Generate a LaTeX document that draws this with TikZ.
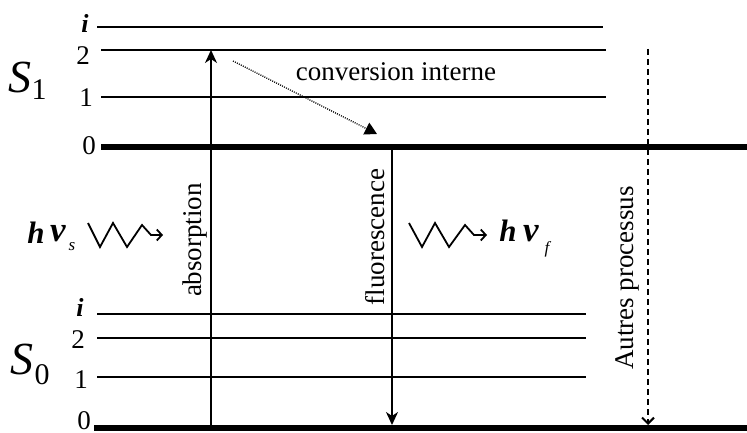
\documentclass[tikz,border=0pt]{standalone}
\usepackage{fontspec}
\setmainfont{Liberation Serif}
\usetikzlibrary{arrows.meta}
\begin{document}
\begin{tikzpicture}[x=1pt,y=-1pt,
  lvl/.style={line width=1.8pt},
  ground/.style={line width=6pt},
  txt/.style={inner sep=0pt,font=\fontsize{27}{27}\selectfont},
  num/.style={inner sep=0pt,font=\fontsize{27}{27}\selectfont},
  inum/.style={inner sep=0pt,font=\fontsize{26}{26}\selectfont\bfseries\itshape},
  bigS/.style={inner sep=0pt,font=\fontsize{46}{46}\selectfont\itshape},
  subS/.style={inner sep=0pt,font=\fontsize{30}{30}\selectfont},
  hnu/.style={inner sep=0pt,font=\fontsize{31}{31}\selectfont\bfseries\itshape},
  bnu/.style={inner sep=0pt,font=\fontsize{35}{35}\selectfont\bfseries\itshape},
  hsub/.style={inner sep=0pt,font=\fontsize{17}{17}\selectfont\itshape},
  arr/.style={line width=1.7pt,-{Stealth[length=13pt,width=12pt,inset=4pt]}},
  darr/.style={line width=2pt,dash pattern=on 6pt off 4pt,-{Straight Barb[length=6pt,width=12pt]}},
  dotarr/.style={line width=1.3pt,dash pattern=on 1pt off 1.2pt,-{Triangle[length=12pt,width=13pt]}},
  wave/.style={line width=1.8pt,line join=miter,-{Straight Barb[length=5pt,width=11pt]}}
]
\useasboundingbox (0,0) rectangle (747,433);
% S1 levels
\draw[lvl] (97,27) -- (603,27);
\draw[lvl] (101,50) -- (606,50);
\draw[lvl] (101,97) -- (606,97);
\draw[ground] (101,147) -- (747,147);
% S0 levels
\draw[lvl] (97,314) -- (586,314);
\draw[lvl] (97,338) -- (586,338);
\draw[lvl] (97,377) -- (586,377);
\draw[ground] (94,428) -- (747,428);
% level labels
\node[inum] (s1i) at (85,23) {i};
\node[num] (s12) at (83,56) {2};
\node[num] (s11) at (86,98) {1};
\node[num] (s10) at (89,146) {0};
\node[inum] (s0i) at (80,307) {i};
\node[num] (s02) at (78,340) {2};
\node[num] (s01) at (81,380) {1};
\node[num] (s00) at (84,421) {0};
% state labels
\node[bigS] (S1) at (20,77) {S};
\node[subS] (S1s) at (39,90) {1};
\node[bigS] (S0) at (22,359) {S};
\node[subS] (S0s) at (42,375) {0};
% transitions
\coordinate (a0) at (211,425);
\coordinate (a1) at (211,50);
\draw[arr] (a0) -- (a1);
\coordinate (f0) at (392,150);
\coordinate (f1) at (392,425);
\draw[arr] (f0) -- (f1);
\coordinate (d0) at (648,49);
\coordinate (d1) at (648,425);
\draw[darr] (d0) -- (d1);
\coordinate (c0) at (233,61);
\coordinate (c1) at (377,134);
\draw[dotarr] (c0) -- (c1);
% transition labels
\node[txt,rotate=90] (abs) at (195,240) {absorption};
\node[txt,rotate=90] (flu) at (375,237) {fluorescence};
\node[txt,rotate=90] (aut) at (627,278) {Autres processus};
\node[txt] (conv) at (396,72) {conversion interne};
% photons
\coordinate (w0) at (88,223);
\coordinate (w1) at (163,235);
\draw[wave] (w0) -- (100,247) -- (113,223) -- (127,247) -- (142,225) -- (151,235) -- (w1);
\coordinate (v0) at (409,223);
\coordinate (v1) at (487,235);
\draw[wave] (v0) -- (422,247) -- (435,223) -- (449,247) -- (465,225) -- (474,235) -- (v1);
\node[hnu] (hs) at (36,233) {h};
\node[bnu] (nus) at (58,234) {ν};
\node[hsub] (ss) at (72,247) {s};
\node[hnu] (hf) at (508,231) {h};
\node[bnu] (nuf) at (531,234) {ν};
\node[hsub] (sf) at (547,249) {f};
\end{tikzpicture}
\end{document}
